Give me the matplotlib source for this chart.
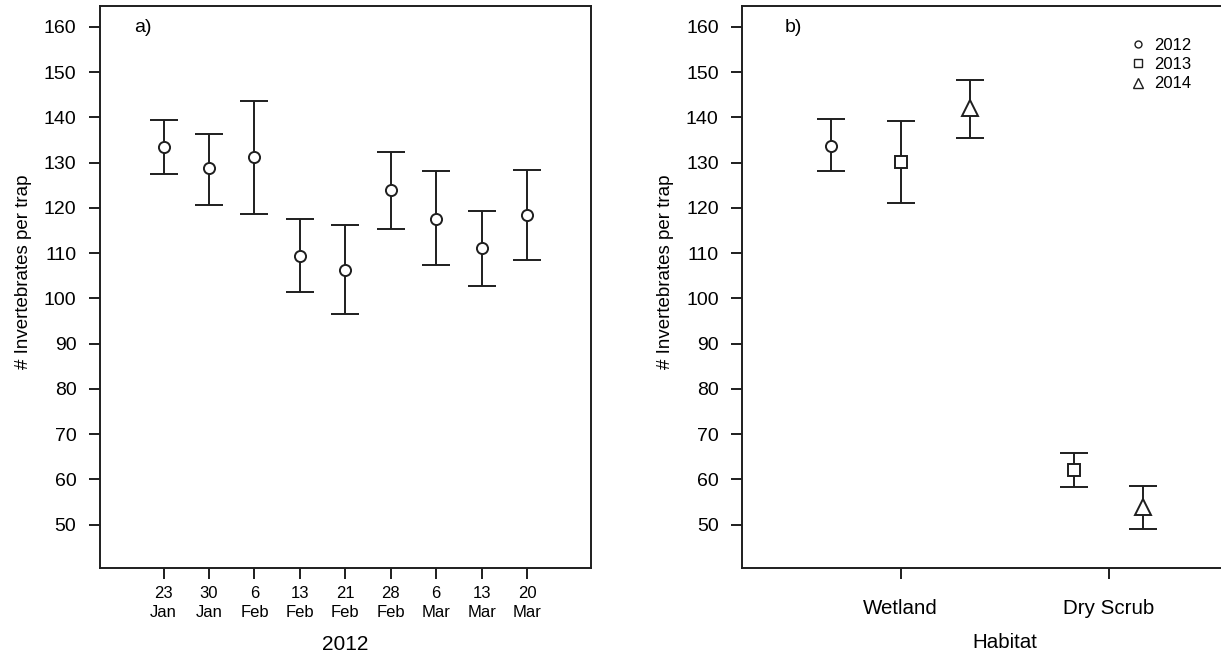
import matplotlib
matplotlib.use("Agg")
import matplotlib.pyplot as plt
from matplotlib.lines import Line2D
import numpy as np

plt.rcParams['font.family'] = ['Liberation Sans', 'DejaVu Sans']

# ---- Panel a) data ----
dates = ["23\nJan", "30\nJan", "6\nFeb", "13\nFeb", "21\nFeb", "28\nFeb", "6\nMar", "13\nMar", "20\nMar"]
a_mean = [133.5, 128.7, 131.2, 109.4, 106.2, 123.9, 117.6, 111.1, 118.4]
a_upper = [139.4, 136.3, 143.7, 117.5, 116.2, 132.3, 128.1, 119.2, 128.4]
a_lower = [127.5, 120.7, 118.7, 101.4, 96.6, 115.3, 107.4, 102.8, 108.5]

# ---- Panel b) data ----
habitats = ["Wetland", "Dry Scrub"]
years = ["2012", "2013", "2014"]
b_wetland_mean = [133.7, 130.1, 142.0]
b_wetland_upper = [139.7, 139.1, 148.2]
b_wetland_lower = [128.1, 121.0, 135.5]
b_dry_years = ["2013", "2014"]
b_dry_mean = [62.1, 53.9]
b_dry_upper = [65.8, 58.6]
b_dry_lower = [58.3, 49.0]

yticks = [50, 60, 70, 80, 90, 100, 110, 120, 130, 140, 150, 160]
markers = {"2012": "o", "2013": "s", "2014": "^"}
msizes = {"2012": 8, "2013": 8, "2014": 11}

W, H = 1221, 655
fig = plt.figure(figsize=(W / 100, H / 100), dpi=100)
lc = "#1e1e1e"
lw = 1.4
cap = 10

def style(ax):
    for s in ax.spines.values():
        s.set_color(lc)
        s.set_linewidth(lw)
    ax.tick_params(axis='y', length=8, width=lw, color=lc, pad=9, labelsize=14)
    ax.tick_params(axis='x', length=8, width=lw, color=lc, pad=5)
    ax.set_yticks(yticks)
    ax.set_ylim(40.4, 164.6)

# Left panel
axa = fig.add_axes([100 / W, 1 - 568 / H, 490.7 / W, 562 / H])
style(axa)
xa = np.arange(1, len(dates) + 1)
yerr_a = [np.array(a_mean) - np.array(a_lower), np.array(a_upper) - np.array(a_mean)]
axa.errorbar(xa, a_mean, yerr=yerr_a, fmt='o', color=lc, mfc='white', mec=lc,
             ms=8, mew=lw, elinewidth=lw, capsize=cap, capthick=lw)
axa.set_xlim(-0.4, 10.4)
axa.set_xticks(xa)
axa.set_xticklabels(dates, fontsize=12, linespacing=1.3)
axa.set_xlabel("2012", fontsize=15, labelpad=11)
axa.set_ylabel("# Invertebrates per trap", fontsize=13.5)
axa.yaxis.set_label_coords((32 - 100) / 490.7, 0.528)
fig.text(134 / W, 1 - 27 / H, "a)", fontsize=14, va='center', ha='left')

# Right panel
axb = fig.add_axes([742.3 / W, 1 - 568 / H, (1267 - 742.3) / W, 562 / H])
style(axb)
axb.spines['right'].set_visible(False)
centers = {"Wetland": 2.0, "Dry Scrub": 5.0}
wet_off = {"2012": -1.0, "2013": 0.0, "2014": 1.0}
dry_off = {"2013": -0.5, "2014": 0.5}
for i, yr in enumerate(years):
    m, u, l = b_wetland_mean[i], b_wetland_upper[i], b_wetland_lower[i]
    axb.errorbar([centers["Wetland"] + wet_off[yr]], [m], yerr=[[m - l], [u - m]],
                 fmt=markers[yr], color=lc, mfc='white', mec=lc, ms=msizes[yr], mew=lw,
                 elinewidth=lw, capsize=cap, capthick=lw)
for i, yr in enumerate(b_dry_years):
    m, u, l = b_dry_mean[i], b_dry_upper[i], b_dry_lower[i]
    axb.errorbar([centers["Dry Scrub"] + dry_off[yr]], [m], yerr=[[m - l], [u - m]],
                 fmt=markers[yr], color=lc, mfc='white', mec=lc, ms=msizes[yr], mew=lw,
                 elinewidth=lw, capsize=cap, capthick=lw)
axb.set_xlim(-0.28, 7.28)
axb.set_xticks([centers[h] for h in habitats])
axb.set_xticklabels(habitats, fontsize=14.8)
axb.tick_params(axis='x', pad=14)
axb.set_xlabel("Habitat", fontsize=14.8, labelpad=11)
axb.set_ylabel("# Invertebrates per trap", fontsize=13.5)
axb.yaxis.set_label_coords((674 - 742.3) / 524.7, 0.528)
fig.text(785 / W, 1 - 27 / H, "b)", fontsize=14, va='center', ha='left')

handles = [Line2D([], [], marker=markers[y], ls='none', mfc='white', mec=lc, mew=1.0,
                  ms={"2012": 5, "2013": 5.5, "2014": 6.5}[y]) for y in years]
fig.legend(handles, years, loc='upper left', bbox_to_anchor=(1130 / W, 1 - 38 / H),
           frameon=False, fontsize=12, handlelength=1.0, handletextpad=0.45,
           labelspacing=0.25, borderpad=0, borderaxespad=0)

fig.savefig("out.png", dpi=100)
